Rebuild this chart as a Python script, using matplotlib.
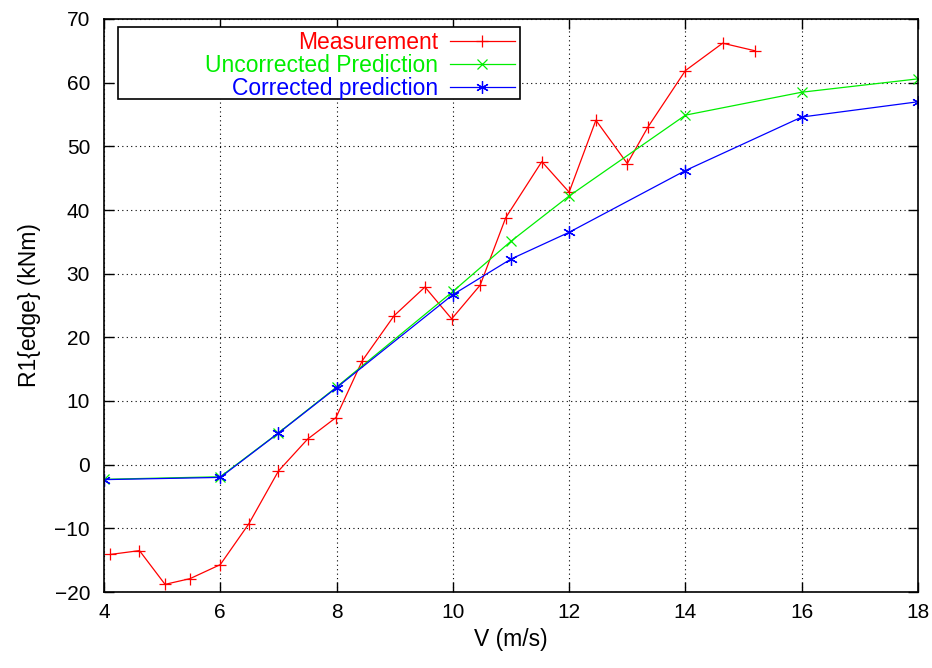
import matplotlib
matplotlib.use("Agg")
import matplotlib.pyplot as plt
from matplotlib.patches import Rectangle

# Measurement (red)
meas_v = [4.11, 4.61, 5.05, 5.48, 6.0, 6.49, 7.0, 7.5, 7.99, 8.44, 8.99, 9.52,
          9.98, 10.47, 10.91, 11.53, 12.0, 12.46, 13.0, 13.36, 14.0, 14.64, 15.2]
meas_r = [-14.1, -13.5, -18.8, -17.9, -15.7, -9.3, -1.0, 4.0, 7.4, 16.3, 23.4, 27.9,
          22.9, 28.2, 38.8, 47.6, 42.8, 54.1, 47.3, 53.1, 61.9, 66.2, 65.0]

# predictions
pred_v = [4, 6, 7, 8, 10, 11, 12, 14, 16, 18]
uncorr_r = [-2.3, -1.9, 5.0, 12.2, 27.2, 35.1, 42.2, 54.9, 58.5, 60.6]
corr_r = [-2.35, -2.0, 4.95, 12.1, 26.7, 32.3, 36.5, 46.2, 54.6, 57.0]

plt.rcParams['font.family'] = ['Liberation Sans', 'DejaVu Sans']

W, H = 932, 668
fig = plt.figure(figsize=(W/100, H/100), dpi=100)
x0, x1, y0, y1 = 104, 918, 19, 592
ax = fig.add_axes([x0/W, 1 - y1/H, (x1-x0)/W, (y1-y0)/H])

green = '#00ee00'
ax.plot(meas_v, meas_r, color='red', lw=0.9, marker='+', ms=8, mew=0.9,
        label='Measurement')
ax.plot(pred_v, uncorr_r, color=green, lw=0.9, marker='x', ms=6.5, mew=0.9,
        label='Uncorrected Prediction')
ax.plot(pred_v, corr_r, color='blue', lw=0.9, marker=(6, 2, 0), ms=9, mew=0.9,
        label='Corrected prediction')

ax.set_xlim(4, 18)
ax.set_ylim(-20, 70)
ax.set_xticks(range(4, 19, 2))
ax.set_yticks(range(-20, 71, 10))
ax.grid(True, color='black', linestyle=(0, (1, 3)), linewidth=0.8)
ax.tick_params(direction='in', top=True, right=True, length=7, width=1,
               labelsize=15)
ax.tick_params(axis='y', pad=10)
ax.tick_params(axis='x', pad=8)
for s in ax.spines.values():
    s.set_linewidth(1.2)

ax.set_xlabel('V (m/s)', fontsize=16.5, labelpad=4)
ax.set_ylabel('R1{edge} (kNm)', fontsize=16.5, labelpad=10)

# legend box (gnuplot style, wide left padding)
bw = (x1 - x0)
bh = (y1 - y0)
box = Rectangle(((118-x0)/bw, 1-(99-y0)/bh), (520-118)/bw, (99-27)/bh,
                transform=ax.transAxes, facecolor='white', edgecolor='black',
                lw=1.2, zorder=4.5)
ax.add_patch(box)

leg = ax.legend(loc='upper right', bbox_to_anchor=((515-x0)/bw, 1-(31-y0)/bh),
                markerfirst=False, fontsize=16.5, frameon=False,
                handlelength=2.85, borderpad=0.0, labelspacing=0.0,
                handletextpad=0.5, borderaxespad=0)
for txt, c in zip(leg.get_texts(), ['red', green, 'blue']):
    txt.set_color(c)
    txt.set_ha('right')

fig.savefig('out.png', dpi=100)
